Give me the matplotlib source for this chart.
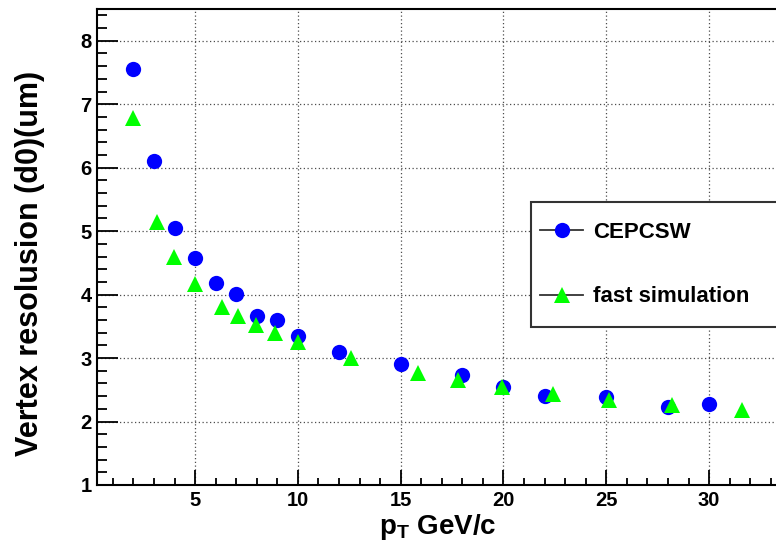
import matplotlib.pyplot as plt
from matplotlib.lines import Line2D
from matplotlib.patches import Rectangle
from matplotlib.ticker import MultipleLocator

plt.rcParams['font.family'] = ['Liberation Sans', 'DejaVu Sans']
plt.rcParams['font.weight'] = 'bold'
plt.rcParams['mathtext.fontset'] = 'custom'
plt.rcParams['mathtext.rm'] = 'Liberation Sans:bold'
plt.rcParams['mathtext.bf'] = 'Liberation Sans:bold'
plt.rcParams['mathtext.it'] = 'Liberation Sans:bold'

# full simulation (CEPCSW)
pt_full = [2, 3, 4, 5, 6, 7, 8, 9, 10, 12, 15, 18, 20, 22, 25, 28, 30]
res_full = [7.55, 6.11, 5.05, 4.57, 4.18, 4.01, 3.67, 3.60, 3.35, 3.09,
            2.90, 2.74, 2.55, 2.40, 2.38, 2.23, 2.27]

# fast simulation
pt_fast = [2.0, 3.16, 3.98, 5.01, 6.31, 7.08, 7.94, 8.91, 10.0, 12.59,
           15.85, 17.78, 19.95, 22.39, 25.12, 28.18, 31.62]
res_fast = [6.78, 5.14, 4.60, 4.16, 3.81, 3.67, 3.52, 3.39, 3.25, 3.00,
            2.77, 2.66, 2.54, 2.44, 2.34, 2.26, 2.18]

W, H = 776, 543
fig = plt.figure(figsize=(W / 100, H / 100), dpi=100)
ax = fig.add_axes([97 / W, 58 / H, 682 / W, 476 / H])

ax.plot(pt_full, res_full, 'o', color='#0000ff', markersize=11,
        markeredgewidth=0, zorder=3)
ax.plot(pt_fast, res_fast, '^', color='#00ff00', markersize=11,
        markeredgewidth=0, zorder=4)

ax.set_xlim(0.23, 33.4)
ax.set_ylim(1, 8.5)
ax.xaxis.set_major_locator(MultipleLocator(5))
ax.xaxis.set_minor_locator(MultipleLocator(1))
ax.yaxis.set_major_locator(MultipleLocator(1))
ax.yaxis.set_minor_locator(MultipleLocator(0.2))

ax.grid(True, which='major', color='0.3', linestyle=(0, (1, 2)), linewidth=0.9)
ax.set_axisbelow(True)

ax.tick_params(axis='both', which='both', direction='in', width=1.3,
               labelsize=14.5, top=False, right=False)
ax.tick_params(axis='y', which='major', length=15, pad=4)
ax.tick_params(axis='y', which='minor', length=7.2)
ax.tick_params(axis='x', which='major', length=10.8, pad=4)
ax.tick_params(axis='x', which='minor', length=5)
for lab in ax.get_xticklabels() + ax.get_yticklabels():
    lab.set_fontweight('bold')
for s in ax.spines.values():
    s.set_linewidth(1.5)

fig.text(30 / W, 1 - 263 / H, 'Vertex resolusion (d0)(um)', rotation=90,
         ha='center', va='center', fontsize=22, fontweight='bold')
fig.text(438 / W, 1 - 527 / H, r'$\mathbf{p_{T}}$ GeV/c', ha='center',
         va='center', fontsize=20, fontweight='bold')

# legend frame runs off the right edge
fig.patches.append(Rectangle((531 / W, 1 - 327 / H), 300 / W, 125 / H,
                             transform=fig.transFigure, facecolor='white',
                             edgecolor='0.2', linewidth=1.5, zorder=5))
handles = [
    Line2D([], [], color='0.2', linewidth=1.3, marker='o', markersize=11,
           markerfacecolor='#0000ff', markeredgewidth=0),
    Line2D([], [], color='0.2', linewidth=1.3, marker='^', markersize=11,
           markerfacecolor='#00ff00', markeredgewidth=0),
]
leg = fig.legend(handles, ['CEPCSW', 'fast simulation'], loc='upper left',
                 bbox_to_anchor=(540 / W, 1 - 222 / H), frameon=False,
                 prop={'size': 16, 'weight': 'bold'}, handlelength=1.95,
                 handletextpad=0.42, labelspacing=1.95, borderpad=0,
                 borderaxespad=0)
leg.set_zorder(6)

fig.savefig('out.png', dpi=100)
